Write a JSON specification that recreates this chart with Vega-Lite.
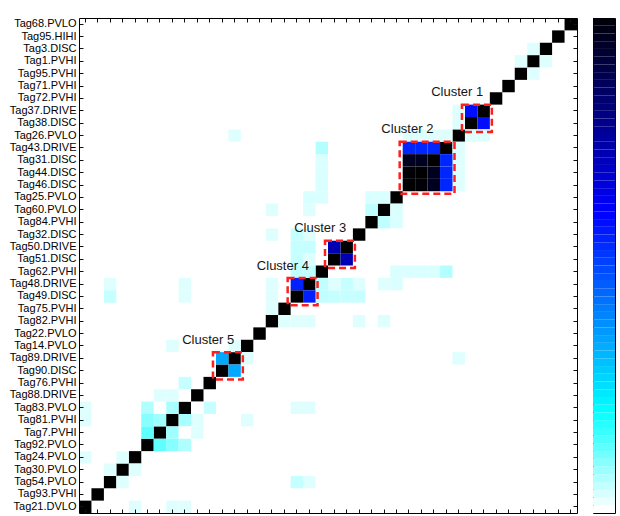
{
  "$schema": "https://vega.github.io/schema/vega-lite/v6.json",
  "autosize": {"type": "pad"},
  "padding": {"left": 9, "top": 17, "right": 0, "bottom": 0},
  "background": "white",
  "width": 536,
  "height": 495,
  "config": {
    "font": "Liberation Sans",
    "axis": {"grid": false, "domain": true, "domainColor": "#000000", "domainWidth": 1, "tickColor": "#111111", "tickWidth": 1, "labelColor": "#000000", "labelFont": "Liberation Sans", "labelFontSize": 11},
    "view": {"stroke": null}
  },
  "datasets": {
    "cells": [
      {"r":"Tag68.PVLO","c":"Tag68.PVLO","v":1},{"r":"Tag95.HIHI","c":"Tag95.HIHI","v":1},{"r":"Tag3.DISC","c":"Tag3.DISC","v":1},{"r":"Tag1.PVHI","c":"Tag1.PVHI","v":1},
      {"r":"Tag95.PVHI","c":"Tag95.PVHI","v":1},{"r":"Tag71.PVHI","c":"Tag71.PVHI","v":1},{"r":"Tag72.PVHI","c":"Tag72.PVHI","v":1},{"r":"Tag37.DRIVE","c":"Tag37.DRIVE","v":1},
      {"r":"Tag38.DISC","c":"Tag38.DISC","v":1},{"r":"Tag26.PVLO","c":"Tag26.PVLO","v":1},{"r":"Tag43.DRIVE","c":"Tag43.DRIVE","v":1},{"r":"Tag31.DISC","c":"Tag31.DISC","v":1},
      {"r":"Tag44.DISC","c":"Tag44.DISC","v":1},{"r":"Tag46.DISC","c":"Tag46.DISC","v":1},{"r":"Tag25.PVLO","c":"Tag25.PVLO","v":1},{"r":"Tag60.PVLO","c":"Tag60.PVLO","v":1},
      {"r":"Tag84.PVHI","c":"Tag84.PVHI","v":1},{"r":"Tag32.DISC","c":"Tag32.DISC","v":1},{"r":"Tag50.DRIVE","c":"Tag50.DRIVE","v":1},{"r":"Tag51.DISC","c":"Tag51.DISC","v":1},
      {"r":"Tag62.PVHI","c":"Tag62.PVHI","v":1},{"r":"Tag48.DRIVE","c":"Tag48.DRIVE","v":1},{"r":"Tag49.DISC","c":"Tag49.DISC","v":1},{"r":"Tag75.PVHI","c":"Tag75.PVHI","v":1},
      {"r":"Tag82.PVHI","c":"Tag82.PVHI","v":1},{"r":"Tag22.PVLO","c":"Tag22.PVLO","v":1},{"r":"Tag14.PVLO","c":"Tag14.PVLO","v":1},{"r":"Tag89.DRIVE","c":"Tag89.DRIVE","v":1},
      {"r":"Tag90.DISC","c":"Tag90.DISC","v":1},{"r":"Tag76.PVHI","c":"Tag76.PVHI","v":1},{"r":"Tag88.DRIVE","c":"Tag88.DRIVE","v":1},{"r":"Tag83.PVLO","c":"Tag83.PVLO","v":1},
      {"r":"Tag81.PVHI","c":"Tag81.PVHI","v":1},{"r":"Tag7.PVHI","c":"Tag7.PVHI","v":1},{"r":"Tag92.PVLO","c":"Tag92.PVLO","v":1},{"r":"Tag24.PVLO","c":"Tag24.PVLO","v":1},
      {"r":"Tag30.PVLO","c":"Tag30.PVLO","v":1},{"r":"Tag54.PVLO","c":"Tag54.PVLO","v":1},{"r":"Tag93.PVHI","c":"Tag93.PVHI","v":1},{"r":"Tag21.DVLO","c":"Tag21.DVLO","v":1},

      {"r":"Tag3.DISC","c":"Tag1.PVHI","v":0.025},{"r":"Tag1.PVHI","c":"Tag3.DISC","v":0.025},
      {"r":"Tag1.PVHI","c":"Tag95.PVHI","v":0.025},{"r":"Tag95.PVHI","c":"Tag1.PVHI","v":0.025},
      {"r":"Tag37.DRIVE","c":"Tag38.DISC","v":0.58},{"r":"Tag38.DISC","c":"Tag37.DRIVE","v":0.58},
      {"r":"Tag37.DRIVE","c":"Tag26.PVLO","v":0.025},{"r":"Tag26.PVLO","c":"Tag37.DRIVE","v":0.025},
      {"r":"Tag38.DISC","c":"Tag26.PVLO","v":0.025},{"r":"Tag26.PVLO","c":"Tag38.DISC","v":0.025},
      {"r":"Tag26.PVLO","c":"Tag43.DRIVE","v":0.025},{"r":"Tag43.DRIVE","c":"Tag26.PVLO","v":0.025},
      {"r":"Tag26.PVLO","c":"Tag31.DISC","v":0.025},{"r":"Tag31.DISC","c":"Tag26.PVLO","v":0.025},
      {"r":"Tag26.PVLO","c":"Tag44.DISC","v":0.025},{"r":"Tag44.DISC","c":"Tag26.PVLO","v":0.025},
      {"r":"Tag26.PVLO","c":"Tag46.DISC","v":0.025},{"r":"Tag46.DISC","c":"Tag26.PVLO","v":0.025},
      {"r":"Tag26.PVLO","c":"Tag89.DRIVE","v":0.025},{"r":"Tag89.DRIVE","c":"Tag26.PVLO","v":0.025},
      {"r":"Tag43.DRIVE","c":"Tag31.DISC","v":0.54},{"r":"Tag31.DISC","c":"Tag43.DRIVE","v":0.54},
      {"r":"Tag43.DRIVE","c":"Tag44.DISC","v":0.54},{"r":"Tag44.DISC","c":"Tag43.DRIVE","v":0.54},
      {"r":"Tag43.DRIVE","c":"Tag46.DISC","v":0.54},{"r":"Tag46.DISC","c":"Tag43.DRIVE","v":0.54},
      {"r":"Tag31.DISC","c":"Tag44.DISC","v":0.95},{"r":"Tag44.DISC","c":"Tag31.DISC","v":0.95},
      {"r":"Tag31.DISC","c":"Tag46.DISC","v":0.95},{"r":"Tag46.DISC","c":"Tag31.DISC","v":0.95},
      {"r":"Tag44.DISC","c":"Tag46.DISC","v":0.99},{"r":"Tag46.DISC","c":"Tag44.DISC","v":0.99},
      {"r":"Tag43.DRIVE","c":"Tag62.PVHI","v":0.06},{"r":"Tag62.PVHI","c":"Tag43.DRIVE","v":0.06},
      {"r":"Tag31.DISC","c":"Tag62.PVHI","v":0.03},{"r":"Tag62.PVHI","c":"Tag31.DISC","v":0.03},
      {"r":"Tag44.DISC","c":"Tag62.PVHI","v":0.03},{"r":"Tag62.PVHI","c":"Tag44.DISC","v":0.03},
      {"r":"Tag46.DISC","c":"Tag62.PVHI","v":0.03},{"r":"Tag62.PVHI","c":"Tag46.DISC","v":0.03},
      {"r":"Tag25.PVLO","c":"Tag62.PVHI","v":0.03},{"r":"Tag62.PVHI","c":"Tag25.PVLO","v":0.03},
      {"r":"Tag25.PVLO","c":"Tag48.DRIVE","v":0.03},{"r":"Tag48.DRIVE","c":"Tag25.PVLO","v":0.03},
      {"r":"Tag25.PVLO","c":"Tag60.PVLO","v":0.03},{"r":"Tag60.PVLO","c":"Tag25.PVLO","v":0.03},
      {"r":"Tag25.PVLO","c":"Tag84.PVHI","v":0.03},{"r":"Tag84.PVHI","c":"Tag25.PVLO","v":0.03},
      {"r":"Tag60.PVLO","c":"Tag84.PVHI","v":0.05},{"r":"Tag84.PVHI","c":"Tag60.PVLO","v":0.05},
      {"r":"Tag60.PVLO","c":"Tag48.DRIVE","v":0.025},{"r":"Tag48.DRIVE","c":"Tag60.PVLO","v":0.025},
      {"r":"Tag60.PVLO","c":"Tag82.PVHI","v":0.025},{"r":"Tag82.PVHI","c":"Tag60.PVLO","v":0.025},
      {"r":"Tag32.DISC","c":"Tag82.PVHI","v":0.025},{"r":"Tag82.PVHI","c":"Tag32.DISC","v":0.025},
      {"r":"Tag32.DISC","c":"Tag48.DRIVE","v":0.025},{"r":"Tag48.DRIVE","c":"Tag32.DISC","v":0.025},
      {"r":"Tag32.DISC","c":"Tag49.DISC","v":0.045},{"r":"Tag49.DISC","c":"Tag32.DISC","v":0.045},
      {"r":"Tag50.DRIVE","c":"Tag51.DISC","v":0.72},{"r":"Tag51.DISC","c":"Tag50.DRIVE","v":0.72},
      {"r":"Tag50.DRIVE","c":"Tag48.DRIVE","v":0.045},{"r":"Tag48.DRIVE","c":"Tag50.DRIVE","v":0.045},
      {"r":"Tag50.DRIVE","c":"Tag49.DISC","v":0.045},{"r":"Tag49.DISC","c":"Tag50.DRIVE","v":0.045},
      {"r":"Tag51.DISC","c":"Tag48.DRIVE","v":0.025},{"r":"Tag48.DRIVE","c":"Tag51.DISC","v":0.025},
      {"r":"Tag51.DISC","c":"Tag49.DISC","v":0.045},{"r":"Tag49.DISC","c":"Tag51.DISC","v":0.045},
      {"r":"Tag62.PVHI","c":"Tag48.DRIVE","v":0.05},{"r":"Tag48.DRIVE","c":"Tag62.PVHI","v":0.05},
      {"r":"Tag62.PVHI","c":"Tag49.DISC","v":0.05},{"r":"Tag49.DISC","c":"Tag62.PVHI","v":0.05},
      {"r":"Tag48.DRIVE","c":"Tag49.DISC","v":0.55},{"r":"Tag49.DISC","c":"Tag48.DRIVE","v":0.55},
      {"r":"Tag48.DRIVE","c":"Tag82.PVHI","v":0.025},{"r":"Tag82.PVHI","c":"Tag48.DRIVE","v":0.025},
      {"r":"Tag49.DISC","c":"Tag82.PVHI","v":0.025},{"r":"Tag82.PVHI","c":"Tag49.DISC","v":0.025},
      {"r":"Tag75.PVHI","c":"Tag82.PVHI","v":0.025},{"r":"Tag82.PVHI","c":"Tag75.PVHI","v":0.025},
      {"r":"Tag48.DRIVE","c":"Tag83.PVLO","v":0.025},{"r":"Tag83.PVLO","c":"Tag48.DRIVE","v":0.025},
      {"r":"Tag49.DISC","c":"Tag83.PVLO","v":0.025},{"r":"Tag83.PVLO","c":"Tag49.DISC","v":0.025},
      {"r":"Tag48.DRIVE","c":"Tag54.PVLO","v":0.025},{"r":"Tag54.PVLO","c":"Tag48.DRIVE","v":0.025},
      {"r":"Tag49.DISC","c":"Tag54.PVLO","v":0.045},{"r":"Tag54.PVLO","c":"Tag49.DISC","v":0.045},
      {"r":"Tag14.PVLO","c":"Tag89.DRIVE","v":0.025},{"r":"Tag89.DRIVE","c":"Tag14.PVLO","v":0.025},
      {"r":"Tag14.PVLO","c":"Tag81.PVHI","v":0.025},{"r":"Tag81.PVHI","c":"Tag14.PVLO","v":0.025},
      {"r":"Tag89.DRIVE","c":"Tag90.DISC","v":0.335},{"r":"Tag90.DISC","c":"Tag89.DRIVE","v":0.335},
      {"r":"Tag76.PVHI","c":"Tag83.PVLO","v":0.045},{"r":"Tag83.PVLO","c":"Tag76.PVHI","v":0.045},
      {"r":"Tag88.DRIVE","c":"Tag83.PVLO","v":0},{"r":"Tag83.PVLO","c":"Tag88.DRIVE","v":0},
      {"r":"Tag88.DRIVE","c":"Tag81.PVHI","v":0.025},{"r":"Tag81.PVHI","c":"Tag88.DRIVE","v":0.025},
      {"r":"Tag88.DRIVE","c":"Tag7.PVHI","v":0.025},{"r":"Tag7.PVHI","c":"Tag88.DRIVE","v":0.025},
      {"r":"Tag83.PVLO","c":"Tag81.PVHI","v":0.068},{"r":"Tag81.PVHI","c":"Tag83.PVLO","v":0.068},
      {"r":"Tag83.PVLO","c":"Tag7.PVHI","v":0},{"r":"Tag7.PVHI","c":"Tag83.PVLO","v":0},
      {"r":"Tag83.PVLO","c":"Tag92.PVLO","v":0.062},{"r":"Tag92.PVLO","c":"Tag83.PVLO","v":0.062},
      {"r":"Tag83.PVLO","c":"Tag21.DVLO","v":0.025},{"r":"Tag21.DVLO","c":"Tag83.PVLO","v":0.025},
      {"r":"Tag81.PVHI","c":"Tag7.PVHI","v":0.075},{"r":"Tag7.PVHI","c":"Tag81.PVHI","v":0.075},
      {"r":"Tag81.PVHI","c":"Tag92.PVLO","v":0.093},{"r":"Tag92.PVLO","c":"Tag81.PVHI","v":0.093},
      {"r":"Tag81.PVHI","c":"Tag21.DVLO","v":0.025},{"r":"Tag21.DVLO","c":"Tag81.PVHI","v":0.025},
      {"r":"Tag7.PVHI","c":"Tag92.PVLO","v":0.125},{"r":"Tag92.PVLO","c":"Tag7.PVHI","v":0.125},
      {"r":"Tag24.PVLO","c":"Tag30.PVLO","v":0.025},{"r":"Tag30.PVLO","c":"Tag24.PVLO","v":0.025},
      {"r":"Tag24.PVLO","c":"Tag21.DVLO","v":0.025},{"r":"Tag21.DVLO","c":"Tag24.PVLO","v":0.025},
      {"r":"Tag30.PVLO","c":"Tag54.PVLO","v":0.025},{"r":"Tag54.PVLO","c":"Tag30.PVLO","v":0.025}
    ],
    "clusters": [
      {"cluster":"Cluster 1","first":"Tag37.DRIVE","last":"Tag38.DISC","mid":"Tag38.DISC"},
      {"cluster":"Cluster 2","first":"Tag43.DRIVE","last":"Tag46.DISC","mid":"Tag44.DISC"},
      {"cluster":"Cluster 3","first":"Tag50.DRIVE","last":"Tag51.DISC","mid":"Tag51.DISC"},
      {"cluster":"Cluster 4","first":"Tag48.DRIVE","last":"Tag49.DISC","mid":"Tag49.DISC"},
      {"cluster":"Cluster 5","first":"Tag89.DRIVE","last":"Tag90.DISC","mid":"Tag90.DISC"}
    ],
    "levels": [
      {"lo":0,"hi":0.015625},{"lo":0.015625,"hi":0.03125},{"lo":0.03125,"hi":0.046875},{"lo":0.046875,"hi":0.0625},
      {"lo":0.0625,"hi":0.078125},{"lo":0.078125,"hi":0.09375},{"lo":0.09375,"hi":0.109375},{"lo":0.109375,"hi":0.125},
      {"lo":0.125,"hi":0.140625},{"lo":0.140625,"hi":0.15625},{"lo":0.15625,"hi":0.171875},{"lo":0.171875,"hi":0.1875},
      {"lo":0.1875,"hi":0.203125},{"lo":0.203125,"hi":0.21875},{"lo":0.21875,"hi":0.234375},{"lo":0.234375,"hi":0.25},
      {"lo":0.25,"hi":0.265625},{"lo":0.265625,"hi":0.28125},{"lo":0.28125,"hi":0.296875},{"lo":0.296875,"hi":0.3125},
      {"lo":0.3125,"hi":0.328125},{"lo":0.328125,"hi":0.34375},{"lo":0.34375,"hi":0.359375},{"lo":0.359375,"hi":0.375},
      {"lo":0.375,"hi":0.390625},{"lo":0.390625,"hi":0.40625},{"lo":0.40625,"hi":0.421875},{"lo":0.421875,"hi":0.4375},
      {"lo":0.4375,"hi":0.453125},{"lo":0.453125,"hi":0.46875},{"lo":0.46875,"hi":0.484375},{"lo":0.484375,"hi":0.5},
      {"lo":0.5,"hi":0.515625},{"lo":0.515625,"hi":0.53125},{"lo":0.53125,"hi":0.546875},{"lo":0.546875,"hi":0.5625},
      {"lo":0.5625,"hi":0.578125},{"lo":0.578125,"hi":0.59375},{"lo":0.59375,"hi":0.609375},{"lo":0.609375,"hi":0.625},
      {"lo":0.625,"hi":0.640625},{"lo":0.640625,"hi":0.65625},{"lo":0.65625,"hi":0.671875},{"lo":0.671875,"hi":0.6875},
      {"lo":0.6875,"hi":0.703125},{"lo":0.703125,"hi":0.71875},{"lo":0.71875,"hi":0.734375},{"lo":0.734375,"hi":0.75},
      {"lo":0.75,"hi":0.765625},{"lo":0.765625,"hi":0.78125},{"lo":0.78125,"hi":0.796875},{"lo":0.796875,"hi":0.8125},
      {"lo":0.8125,"hi":0.828125},{"lo":0.828125,"hi":0.84375},{"lo":0.84375,"hi":0.859375},{"lo":0.859375,"hi":0.875},
      {"lo":0.875,"hi":0.890625},{"lo":0.890625,"hi":0.90625},{"lo":0.90625,"hi":0.921875},{"lo":0.921875,"hi":0.9375},
      {"lo":0.9375,"hi":0.953125},{"lo":0.953125,"hi":0.96875},{"lo":0.96875,"hi":0.984375},{"lo":0.984375,"hi":1}
    ]
  },
  "layer": [
    {
      "mark": {"type": "rect", "fill": "#f4ffff", "strokeWidth": 0},
      "encoding": {
        "x": {"datum": "Tag21.DVLO", "type": "nominal", "bandPosition": 0,
          "scale": {"domain": ["Tag21.DVLO","Tag93.PVHI","Tag54.PVLO","Tag30.PVLO","Tag24.PVLO","Tag92.PVLO","Tag7.PVHI","Tag81.PVHI","Tag83.PVLO","Tag88.DRIVE","Tag76.PVHI","Tag90.DISC","Tag89.DRIVE","Tag14.PVLO","Tag22.PVLO","Tag82.PVHI","Tag75.PVHI","Tag49.DISC","Tag48.DRIVE","Tag62.PVHI","Tag51.DISC","Tag50.DRIVE","Tag32.DISC","Tag84.PVHI","Tag60.PVLO","Tag25.PVLO","Tag46.DISC","Tag44.DISC","Tag31.DISC","Tag43.DRIVE","Tag26.PVLO","Tag38.DISC","Tag37.DRIVE","Tag72.PVHI","Tag71.PVHI","Tag95.PVHI","Tag1.PVHI","Tag3.DISC","Tag95.HIHI","Tag68.PVLO"], "range": [0, 498], "paddingInner": 0, "paddingOuter": 0},
          "axis": {"orient": "bottom", "labels": false, "tickSize": -4, "title": null}},
        "x2": {"datum": "Tag68.PVLO", "bandPosition": 1},
        "y": {"datum": "Tag68.PVLO", "type": "nominal", "bandPosition": 0,
          "scale": {"domain": ["Tag68.PVLO","Tag95.HIHI","Tag3.DISC","Tag1.PVHI","Tag95.PVHI","Tag71.PVHI","Tag72.PVHI","Tag37.DRIVE","Tag38.DISC","Tag26.PVLO","Tag43.DRIVE","Tag31.DISC","Tag44.DISC","Tag46.DISC","Tag25.PVLO","Tag60.PVLO","Tag84.PVHI","Tag32.DISC","Tag50.DRIVE","Tag51.DISC","Tag62.PVHI","Tag48.DRIVE","Tag49.DISC","Tag75.PVHI","Tag82.PVHI","Tag22.PVLO","Tag14.PVLO","Tag89.DRIVE","Tag90.DISC","Tag76.PVHI","Tag88.DRIVE","Tag83.PVLO","Tag81.PVHI","Tag7.PVHI","Tag92.PVLO","Tag24.PVLO","Tag30.PVLO","Tag54.PVLO","Tag93.PVHI","Tag21.DVLO"], "paddingInner": 0, "paddingOuter": 0},
          "axis": {"orient": "left", "tickSize": -4, "labelPadding": 7, "labelFontSize": 11, "labelFont": "Liberation Sans", "title": null}},
        "y2": {"datum": "Tag21.DVLO", "bandPosition": 1}
      }
    },
    {
      "data": {"name": "cells"},
      "mark": {"type": "rect"},
      "encoding": {
        "x": {"field": "c", "type": "nominal",
          "scale": {"domain": ["Tag21.DVLO","Tag93.PVHI","Tag54.PVLO","Tag30.PVLO","Tag24.PVLO","Tag92.PVLO","Tag7.PVHI","Tag81.PVHI","Tag83.PVLO","Tag88.DRIVE","Tag76.PVHI","Tag90.DISC","Tag89.DRIVE","Tag14.PVLO","Tag22.PVLO","Tag82.PVHI","Tag75.PVHI","Tag49.DISC","Tag48.DRIVE","Tag62.PVHI","Tag51.DISC","Tag50.DRIVE","Tag32.DISC","Tag84.PVHI","Tag60.PVLO","Tag25.PVLO","Tag46.DISC","Tag44.DISC","Tag31.DISC","Tag43.DRIVE","Tag26.PVLO","Tag38.DISC","Tag37.DRIVE","Tag72.PVHI","Tag71.PVHI","Tag95.PVHI","Tag1.PVHI","Tag3.DISC","Tag95.HIHI","Tag68.PVLO"], "range": [0, 498], "paddingInner": 0, "paddingOuter": 0},
          "axis": {"orient": "top", "labels": false, "tickSize": -4, "title": null}},
        "y": {"field": "r", "type": "nominal",
          "scale": {"domain": ["Tag68.PVLO","Tag95.HIHI","Tag3.DISC","Tag1.PVHI","Tag95.PVHI","Tag71.PVHI","Tag72.PVHI","Tag37.DRIVE","Tag38.DISC","Tag26.PVLO","Tag43.DRIVE","Tag31.DISC","Tag44.DISC","Tag46.DISC","Tag25.PVLO","Tag60.PVLO","Tag84.PVHI","Tag32.DISC","Tag50.DRIVE","Tag51.DISC","Tag62.PVHI","Tag48.DRIVE","Tag49.DISC","Tag75.PVHI","Tag82.PVHI","Tag22.PVLO","Tag14.PVLO","Tag89.DRIVE","Tag90.DISC","Tag76.PVHI","Tag88.DRIVE","Tag83.PVLO","Tag81.PVHI","Tag7.PVHI","Tag92.PVLO","Tag24.PVLO","Tag30.PVLO","Tag54.PVLO","Tag93.PVHI","Tag21.DVLO"], "paddingInner": 0, "paddingOuter": 0},
          "axis": {"orient": "right", "offset": -38, "labels": false, "tickSize": -4, "title": null}},
        "color": {"field": "v", "type": "quantitative",
          "scale": {"type": "linear", "domain": [0, 0.2, 0.6, 1], "range": ["#ffffff", "#00ffff", "#0000ff", "#000000"], "interpolate": "rgb", "clamp": true},
          "legend": null}
      }
    },
    {
      "data": {"name": "clusters"},
      "mark": {"type": "rect", "fillOpacity": 0, "stroke": "#ff1e1e", "strokeWidth": 2.5, "strokeDash": [7, 4], "xOffset": -3, "x2Offset": 2, "y2Offset": 2.5},
      "encoding": {
        "x": {"field": "last", "type": "nominal", "bandPosition": 0, "axis": null,
          "scale": {"domain": ["Tag21.DVLO","Tag93.PVHI","Tag54.PVLO","Tag30.PVLO","Tag24.PVLO","Tag92.PVLO","Tag7.PVHI","Tag81.PVHI","Tag83.PVLO","Tag88.DRIVE","Tag76.PVHI","Tag90.DISC","Tag89.DRIVE","Tag14.PVLO","Tag22.PVLO","Tag82.PVHI","Tag75.PVHI","Tag49.DISC","Tag48.DRIVE","Tag62.PVHI","Tag51.DISC","Tag50.DRIVE","Tag32.DISC","Tag84.PVHI","Tag60.PVLO","Tag25.PVLO","Tag46.DISC","Tag44.DISC","Tag31.DISC","Tag43.DRIVE","Tag26.PVLO","Tag38.DISC","Tag37.DRIVE","Tag72.PVHI","Tag71.PVHI","Tag95.PVHI","Tag1.PVHI","Tag3.DISC","Tag95.HIHI","Tag68.PVLO"], "range": [0, 498], "paddingInner": 0, "paddingOuter": 0}},
        "x2": {"field": "first", "bandPosition": 1},
        "y": {"field": "first", "type": "nominal", "bandPosition": 0, "axis": null,
          "scale": {"domain": ["Tag68.PVLO","Tag95.HIHI","Tag3.DISC","Tag1.PVHI","Tag95.PVHI","Tag71.PVHI","Tag72.PVHI","Tag37.DRIVE","Tag38.DISC","Tag26.PVLO","Tag43.DRIVE","Tag31.DISC","Tag44.DISC","Tag46.DISC","Tag25.PVLO","Tag60.PVLO","Tag84.PVHI","Tag32.DISC","Tag50.DRIVE","Tag51.DISC","Tag62.PVHI","Tag48.DRIVE","Tag49.DISC","Tag75.PVHI","Tag82.PVHI","Tag22.PVLO","Tag14.PVLO","Tag89.DRIVE","Tag90.DISC","Tag76.PVHI","Tag88.DRIVE","Tag83.PVLO","Tag81.PVHI","Tag7.PVHI","Tag92.PVLO","Tag24.PVLO","Tag30.PVLO","Tag54.PVLO","Tag93.PVHI","Tag21.DVLO"], "paddingInner": 0, "paddingOuter": 0}},
        "y2": {"field": "last", "bandPosition": 1}
      }
    },
    {
      "data": {"name": "clusters"},
      "mark": {"type": "text", "dx": -14, "dy": -18.5, "fontSize": 13, "font": "Liberation Sans", "color": "#151515", "align": "center", "baseline": "middle"},
      "encoding": {
        "x": {"field": "mid", "type": "nominal", "axis": null,
          "scale": {"domain": ["Tag21.DVLO","Tag93.PVHI","Tag54.PVLO","Tag30.PVLO","Tag24.PVLO","Tag92.PVLO","Tag7.PVHI","Tag81.PVHI","Tag83.PVLO","Tag88.DRIVE","Tag76.PVHI","Tag90.DISC","Tag89.DRIVE","Tag14.PVLO","Tag22.PVLO","Tag82.PVHI","Tag75.PVHI","Tag49.DISC","Tag48.DRIVE","Tag62.PVHI","Tag51.DISC","Tag50.DRIVE","Tag32.DISC","Tag84.PVHI","Tag60.PVLO","Tag25.PVLO","Tag46.DISC","Tag44.DISC","Tag31.DISC","Tag43.DRIVE","Tag26.PVLO","Tag38.DISC","Tag37.DRIVE","Tag72.PVHI","Tag71.PVHI","Tag95.PVHI","Tag1.PVHI","Tag3.DISC","Tag95.HIHI","Tag68.PVLO"], "range": [0, 498], "paddingInner": 0, "paddingOuter": 0}},
        "y": {"field": "first", "type": "nominal", "axis": null,
          "scale": {"domain": ["Tag68.PVLO","Tag95.HIHI","Tag3.DISC","Tag1.PVHI","Tag95.PVHI","Tag71.PVHI","Tag72.PVHI","Tag37.DRIVE","Tag38.DISC","Tag26.PVLO","Tag43.DRIVE","Tag31.DISC","Tag44.DISC","Tag46.DISC","Tag25.PVLO","Tag60.PVLO","Tag84.PVHI","Tag32.DISC","Tag50.DRIVE","Tag51.DISC","Tag62.PVHI","Tag48.DRIVE","Tag49.DISC","Tag75.PVHI","Tag82.PVHI","Tag22.PVLO","Tag14.PVLO","Tag89.DRIVE","Tag90.DISC","Tag76.PVHI","Tag88.DRIVE","Tag83.PVLO","Tag81.PVHI","Tag7.PVHI","Tag92.PVLO","Tag24.PVLO","Tag30.PVLO","Tag54.PVLO","Tag93.PVHI","Tag21.DVLO"], "paddingInner": 0, "paddingOuter": 0}},
        "text": {"field": "cluster"}
      }
    },
    {
      "data": {"name": "levels"},
      "mark": {"type": "rect"},
      "encoding": {
        "x": {"datum": 0, "type": "quantitative", "scale": {"domain": [0, 1], "range": [514, 536], "nice": false, "zero": false},
          "axis": {"orient": "bottom", "ticks": false, "labels": false, "title": null}},
        "x2": {"datum": 1},
        "y": {"field": "lo", "type": "quantitative",
          "scale": {"domain": [0, 1], "nice": false, "zero": false},
          "axis": {"orient": "left", "offset": -514, "values": [0.1, 0.2, 0.3, 0.4, 0.5, 0.6, 0.7, 0.8, 0.9], "labels": false, "tickSize": -3, "title": null}},
        "y2": {"field": "hi"},
        "color": {"field": "lo", "type": "quantitative",
          "scale": {"type": "linear", "domain": [0, 0.2, 0.6, 1], "range": ["#ffffff", "#00ffff", "#0000ff", "#000000"], "interpolate": "rgb", "clamp": true},
          "legend": null}
      }
    },
    {
      "mark": {"type": "rect", "opacity": 0},
      "encoding": {
        "x": {"datum": 0, "type": "quantitative", "scale": {"domain": [0, 1], "range": [514, 536], "nice": false, "zero": false},
          "axis": {"orient": "top", "ticks": false, "labels": false, "title": null}},
        "x2": {"datum": 1},
        "y": {"datum": 0, "type": "quantitative",
          "scale": {"domain": [0, 1], "nice": false, "zero": false},
          "axis": {"orient": "right", "values": [0.1, 0.2, 0.3, 0.4, 0.5, 0.6, 0.7, 0.8, 0.9], "labels": false, "tickSize": -4, "title": null}},
        "y2": {"datum": 1}
      }
    }
  ],
  "resolve": {"scale": {"x": "independent", "y": "independent"}, "axis": {"x": "independent", "y": "independent"}}
}
